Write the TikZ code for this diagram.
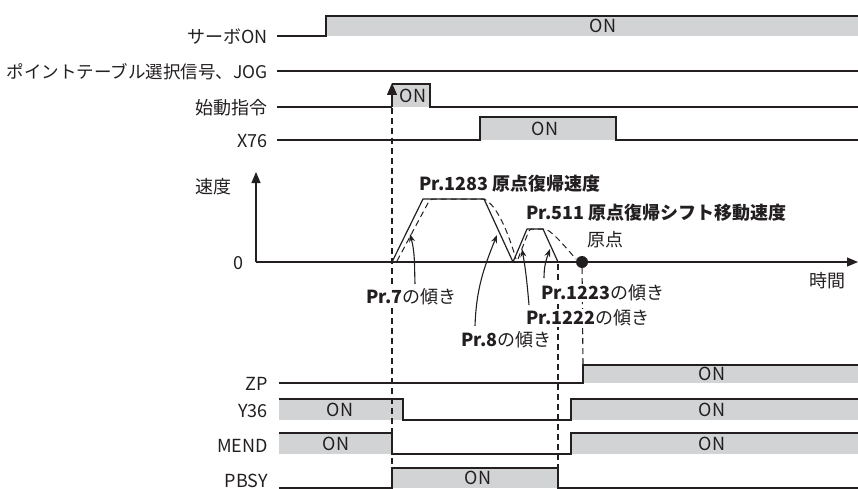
\documentclass[tikz,border=0pt]{standalone}
\usepackage{fontspec}
\setmainfont{Noto Sans CJK JP}
\usetikzlibrary{arrows.meta}
\definecolor{ink}{HTML}{231F20}
\definecolor{sig}{HTML}{D1D3D4}
\begin{document}
\begin{tikzpicture}[x=1pt,y=-1pt,
  lbl/.style={font=\fontsize{18}{21}\selectfont, text=ink, inner sep=0pt},
  bold/.style={font=\fontsize{18}{21}\selectfont\bfseries, text=ink, inner sep=0pt},
  mask/.style={fill=white, inner xsep=0pt, inner ysep=1pt},
  wave/.style={draw=ink, line width=1.2pt},
  onfill/.style={fill=sig},
  guide/.style={draw=ink, line width=1.1pt, dash pattern=on 6pt off 4pt},
  axis/.style={draw=ink, line width=1.2pt, -{Triangle[length=11pt,width=9pt]}},
  ptr/.style={draw=ink, line width=1.1pt, -{Stealth[length=8pt,width=6pt]}}
]
\useasboundingbox (0,0) rectangle (858,489);

% ---- signal labels ----
\node[lbl, anchor=east] (lservo) at (268,37) {サーボON};
\node[lbl, anchor=east, font=\fontsize{17.5}{21}\selectfont] (lpt) at (268,72) {ポイントテーブル選択信号、JOG};
\node[lbl, anchor=east] (lst) at (268,108) {始動指令};
\node[lbl, anchor=east] (lx76) at (268,141) {X76};
\node[lbl, anchor=east] (lzp) at (268,384) {ZP};
\node[lbl, anchor=east] (ly36) at (268,411) {Y36};
\node[lbl, anchor=east] (lmend) at (268,446) {MEND};
\node[lbl, anchor=east] (lpbsy) at (268,481) {PBSY};

% ---- fills ----
\fill[onfill] (326,16) rectangle (858,36);
\fill[onfill] (392,84) rectangle (430,107);
\fill[onfill] (480,117) rectangle (616,140);
\fill[onfill] (583,365) rectangle (858,383);
\fill[onfill] (279,399) rectangle (403,420);
\fill[onfill] (571,399) rectangle (858,420);
\fill[onfill] (279,433) rectangle (392,454);
\fill[onfill] (571,433) rectangle (858,454);
\fill[onfill] (392,468) rectangle (558,488);

% ---- waveforms ----
\draw[wave] (277,36) -- (326,36) -- (326,16) -- (858,16);
\draw[wave] (277,71) -- (858,71);
\draw[wave] (277,107) -- (392,107) (392,84) -- (430,84) -- (430,107) -- (858,107);
\draw[wave] (277,140) -- (480,140) -- (480,117) -- (616,117) -- (616,140) -- (858,140);
\draw[wave] (279,383) -- (583,383) -- (583,365) -- (858,365);
\draw[wave] (279,399) -- (403,399) -- (403,420) -- (571,420) -- (571,399) -- (858,399);
\draw[wave] (279,433) -- (392,433) -- (392,454) -- (571,454) -- (571,433) -- (858,433);
\draw[wave] (279,488) -- (392,488) -- (392,468) -- (558,468) -- (558,488) -- (858,488);

% ---- ON texts ----
\node[lbl] (on1) at (603,26) {ON};
\node[lbl] (on2) at (413,96) {ON};
\node[lbl] (on3) at (545,129) {ON};
\node[lbl] (on4) at (712,374) {ON};
\node[lbl] (on5) at (340,410) {ON};
\node[lbl] (on6) at (712,410) {ON};
\node[lbl] (on7) at (336,444) {ON};
\node[lbl] (on8) at (712,444) {ON};
\node[lbl] (on9) at (478,478) {ON};

% ---- start arrow and guides ----
\coordinate (sb) at (392,107);
\coordinate (st) at (392,83);
\draw[draw=ink, line width=1.2pt, -{Triangle[length=12pt,width=10pt]}] (sb) -- (st);
\coordinate (g1a) at (392,108);
\coordinate (g1b) at (392,488);
\draw[guide] (g1a) -- (g1b);

% ---- speed axes ----
\coordinate (o) at (256,262);
\coordinate (vtop) at (256,172);
\coordinate (hend) at (858,262);
\draw[axis] (o) -- (vtop);
\draw[axis] (o) -- (hend);
\node[lbl] (lspd) at (213,187) {速度};
\node[lbl] (lzero) at (238,263) {0};
\node[lbl] (ltime) at (827,281) {時間};

% ---- speed profile ----
\draw[wave, line join=round] (392,262) -- (423,199) -- (484,199) -- (513,262) -- (527,229) -- (543,229) -- (558,262);
\draw[guide, line width=1pt] (397,261) -- (428,203) .. controls (431,199) .. (437,199) -- (484,199)
   .. controls (497,205) and (508,232) .. (516,259);
\draw[guide, line width=1pt] (518,259) -- (528,233) .. controls (530,229) .. (534,229) -- (546,229)
   .. controls (556,235) and (566,248) .. (576,259);
\node[circle, fill=ink, inner sep=0pt, minimum size=12pt] (home) at (582,262) {};
\coordinate (g2a) at (558,264);
\coordinate (g2b) at (558,468);
\draw[guide] (g2a) -- (g2b);
\coordinate (g3b) at (583,365);
\draw[guide] (home) -- (g3b);

% ---- speed labels ----
\node[bold, anchor=west] (p1283) at (419,184) {Pr.1283 原点復帰速度};
\node[bold, anchor=west] (p511) at (526,213) {Pr.511 原点復帰シフト移動速度};
\node[lbl, anchor=west] (lhome) at (587,240) {原点};
\node[lbl, mask, anchor=west] (p7) at (366,297) {\textbf{Pr.7}の傾き};
\node[lbl, mask, anchor=west] (p8) at (461,340) {\textbf{Pr.8}の傾き};
\node[lbl, mask, anchor=west] (p1222) at (526,318) {\textbf{Pr.1222}の傾き};
\node[lbl, mask, anchor=west] (p1223) at (541,293) {\textbf{Pr.1223}の傾き};

% ---- pointers ----
\coordinate (t7) at (415,284);
\coordinate (h7) at (410,234);
\draw[ptr] (t7) to[out=92,in=-75] (h7);
\coordinate (t8) at (475,326);
\coordinate (h8) at (497,235);
\draw[ptr] (t8) to[out=88,in=-112] (h8);
\coordinate (t1222) at (529,305);
\coordinate (h1222) at (522,249);
\draw[ptr] (t1222) to[out=95,in=-80] (h1222);
\coordinate (t1223) at (544,278);
\coordinate (h1223) at (550,249);
\draw[ptr] (t1223) to[out=90,in=-110] (h1223);
\end{tikzpicture}
\end{document}
